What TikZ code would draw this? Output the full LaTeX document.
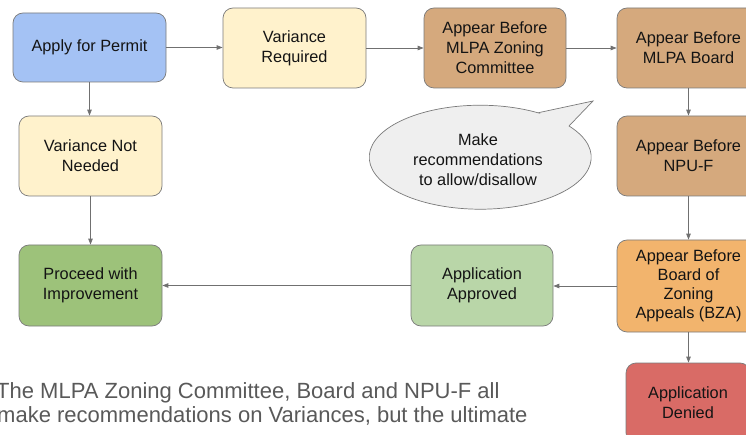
\documentclass[tikz,border=0pt]{standalone}
\usepackage{fontspec}
\setmainfont{Liberation Sans}
\usetikzlibrary{arrows.meta}
\definecolor{cblue}{HTML}{A4C2F4}
\definecolor{cyellow}{HTML}{FFF2CC}
\definecolor{cbrown}{HTML}{D5A97D}
\definecolor{corange}{HTML}{F2B46D}
\definecolor{cgreen}{HTML}{9DC27A}
\definecolor{clgreen}{HTML}{B9D6A8}
\definecolor{cred}{HTML}{D96B66}
\definecolor{cbubble}{HTML}{EFEFEF}
\definecolor{boxline}{HTML}{7A7A7A}
\definecolor{arrowgray}{HTML}{707070}
\definecolor{notegray}{HTML}{595959}
\begin{document}
\begin{tikzpicture}[x=1pt,y=-1pt,
  box/.style={draw=boxline, line width=0.7pt, rounded corners=10pt, align=center,
    font=\fontsize{16.3}{20}\selectfont, inner sep=0pt, text=black!92},
  conn/.style={draw=arrowgray, line width=0.8pt, -{Triangle[length=6pt,width=4.5pt]}},
  note/.style={anchor=base west, inner sep=0pt, text=notegray, font=\fontsize{22}{24}\selectfont}]
\useasboundingbox (0,0) rectangle (746,435);
\clip (0,0) rectangle (746,435);

\node[box, fill=cblue, minimum width=153pt, minimum height=69pt] (apply) at (89.5,47.5) {Apply for Permit};
\node[box, fill=cyellow, minimum width=143pt, minimum height=80pt] (varreq) at (294.5,48) {Variance\\Required};
\node[box, fill=cyellow, minimum width=143pt, minimum height=80pt] (notneed) at (90.5,156) {Variance Not\\Needed};
\node[box, fill=cbrown, minimum width=142pt, minimum height=80pt] (zoning) at (495,48) {Appear Before\\MLPA Zoning\\Committee};
\node[box, fill=cbrown, minimum width=143pt, minimum height=80pt] (board) at (688.5,48) {Appear Before\\MLPA Board};
\node[box, fill=cbrown, minimum width=143pt, minimum height=80pt] (npu) at (688.5,156) {Appear Before\\NPU-F};
\node[box, fill=corange, minimum width=143pt, minimum height=92pt, font=\fontsize{16.3}{19}\selectfont] (bza) at (688.5,286) {Appear Before\\Board of\\Zoning\\Appeals (BZA)};
\node[box, fill=clgreen, minimum width=142pt, minimum height=81pt] (approved) at (482,285.5) {Application\\Approved};
\node[box, fill=cgreen, minimum width=143pt, minimum height=81pt] (proceed) at (90.5,285.5) {Proceed with\\Improvement};
\node[box, fill=cred, minimum width=124pt, minimum height=80pt] (denied) at (688,403) {Application\\Denied};

% speech bubble
\draw[draw=boxline, line width=0.7pt, fill=cbubble]
  (538,112.8) -- (593,101) -- (569,126)
  arc[start angle=-36.9, end angle=301.4, x radius=111, y radius=52] -- cycle;
\node[align=center, inner sep=0pt, font=\fontsize{16.3}{20}\selectfont, text=black!92] (bubble) at (478,160) {Make\\recommendations\\to allow/disallow};

% connectors
\draw[conn] (apply.east) -- (varreq.west |- apply.east);
\draw[conn] (varreq) -- (zoning);
\draw[conn] (zoning) -- (board);
\draw[conn] (board) -- (npu);
\draw[conn] (npu) -- (bza);
\draw[conn] (bza.west) -- (approved.east |- bza.west);
\draw[conn] (approved) -- (proceed);
\draw[conn] (bza.south) -- (bza.south |- denied.north);
\draw[conn] (apply.south) -- (apply.south |- notneed.north);
\draw[conn] (notneed) -- (proceed);

% note text
\node[note] (note1) at (-4,398) {The MLPA Zoning Committee, Board and NPU-F all};
\node[note] (note2) at (-3,422) {make recommendations on Variances, but the ultimate};
\end{tikzpicture}
\end{document}
